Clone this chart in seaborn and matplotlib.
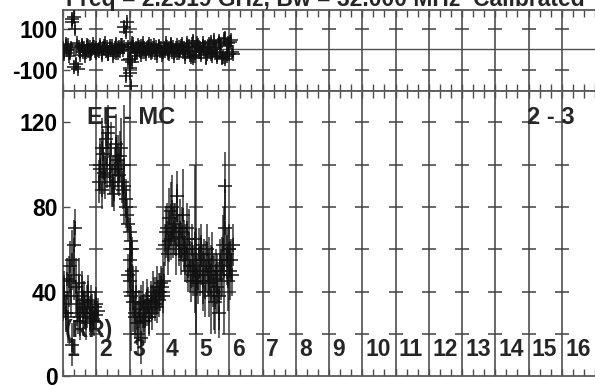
"""Closure amplitude / residual plot for baseline 2-3 (EF - MC)."""
import numpy as np
import pandas as pd
import matplotlib

matplotlib.use("Agg")
import matplotlib.pyplot as plt
import seaborn as sns

# time in hours, amplitude, amplitude error, residual, residual error
hours_a = [1.00, 1.04, 1.08, 1.12, 1.16, 1.20, 1.24, 1.28, 1.32, 1.36, 1.40, 1.44, 1.48, 1.52,
           1.56, 1.60, 1.64, 1.68, 1.72, 1.76, 1.80, 1.84, 1.88, 1.92, 1.96, 2.00, 2.04]
amp_a = [34, 40, 30, 46, 28, 52, 38, 15, 62, 70, 42, 30, 44, 26,
         38, 30, 36, 25, 33, 40, 28, 35, 30, 26, 33, 29, 31]
err_a = [8, 10, 9, 10, 12, 12, 10, 10, 12, 9, 14, 10, 12, 9,
         10, 11, 9, 8, 10, 8, 7, 8, 9, 7, 7, 6, 6]
res_a = [8, -12, 15, -5, 20, -18, 6, 135, 160, 100, -70, -95, 12, -8,
         18, -14, 5, -10, 22, -6, 10, -15, 4, 12, -9, 7, -3]
rerr_a = [18, 20, 22, 18, 24, 22, 18, 25, 30, 22, 26, 24, 20, 18,
          22, 20, 18, 20, 24, 18, 20, 22, 18, 20, 18, 18, 16]

hours_b = [2.08, 2.12, 2.16, 2.20, 2.24, 2.28, 2.32, 2.36, 2.40, 2.44, 2.48, 2.52, 2.56,
           2.60, 2.64, 2.68, 2.72, 2.76, 2.80, 2.84, 2.88, 2.92, 2.96, 3.00, 3.04, 3.08]
amp_b = [92, 100, 88, 105, 96, 112, 100, 118, 95, 108, 90, 86, 98,
         110, 102, 95, 104, 92, 88, 100, 84, 76, 72, 68, 64, 60]
err_b = [10, 12, 9, 12, 10, 12, 11, 10, 9, 12, 10, 8, 10,
         14, 12, 10, 12, 10, 9, 28, 9, 8, 8, 7, 7, 6]
res_b = [-6, 10, -14, 5, 18, -9, 12, -20, 7, -4, 15, -11, 9,
         -16, 6, 13, -8, 20, -5, 11, 85, 135, -50, -90, -180, 30]
rerr_b = [18, 22, 20, 22, 24, 18, 22, 24, 18, 20, 22, 18, 20,
          24, 18, 22, 18, 24, 18, 20, 25, 22, 26, 28, 24, 20]

hours_c = [2.96, 3.00, 3.04, 3.08, 3.12, 3.16, 3.20, 3.24, 3.28, 3.32, 3.36, 3.40, 3.44, 3.48,
           3.52, 3.56, 3.60, 3.64, 3.68, 3.72, 3.76, 3.80, 3.84, 3.88, 3.92, 3.96, 4.00, 4.04]
amp_c = [48, 55, 38, 50, 35, 30, 40, 25, 32, 28, 18, 35, 30, 26,
         38, 33, 28, 36, 30, 40, 34, 38, 42, 36, 40, 44, 38, 45]
err_c = [10, 8, 26, 10, 14, 10, 12, 10, 9, 10, 12, 10, 9, 10,
         8, 9, 8, 9, 8, 10, 8, 9, 10, 8, 9, 8, 8, 9]
res_c = [10, -115, 8, -60, 14, -12, 6, -18, 11, -7, 16, -10, 5, -14,
         9, 12, -6, 18, -11, 7, -15, 10, -4, 13, -9, 6, -12, 8]
rerr_c = [20, 25, 22, 24, 20, 18, 22, 24, 18, 20, 24, 18, 22, 18,
          20, 18, 24, 18, 22, 18, 20, 18, 22, 18, 20, 18, 22, 18]

hours_d = [4.08, 4.12, 4.16, 4.20, 4.24, 4.28, 4.32, 4.36, 4.40, 4.44, 4.48, 4.52, 4.56,
           4.60, 4.64, 4.68, 4.72, 4.76, 4.80, 4.84, 4.88, 4.92, 4.96, 5.00, 5.04, 5.08]
amp_d = [62, 70, 58, 75, 65, 80, 68, 72, 60, 85, 66, 70, 58,
         76, 62, 55, 70, 50, 65, 45, 60, 52, 65, 45, 48, 58]
err_d = [10, 12, 10, 14, 10, 15, 12, 10, 12, 12, 10, 14, 10,
         22, 12, 10, 12, 10, 14, 10, 12, 10, 35, 25, 10, 12]
res_d = [-8, 12, -15, 6, 20, -10, 14, -6, 9, -18, 11, -5, 16,
         -12, 7, -20, 10, -8, 15, -35, 25, -40, 12, -9, 30, -14]
rerr_d = [20, 22, 20, 18, 24, 20, 18, 22, 24, 20, 18, 22, 24,
          20, 18, 24, 22, 18, 20, 25, 24, 26, 20, 18, 24, 20]

hours_e = [5.12, 5.16, 5.20, 5.24, 5.28, 5.32, 5.36, 5.40, 5.44, 5.48, 5.52, 5.56, 5.60,
           5.64, 5.68, 5.72, 5.76, 5.80, 5.84, 5.88, 5.92, 5.96, 6.00, 6.04, 6.08]
amp_e = [50, 62, 45, 55, 40, 60, 48, 52, 38, 58, 45, 35, 50,
         42, 30, 55, 48, 62, 50, 90, 58, 45, 60, 55, 48]
err_e = [12, 10, 14, 10, 12, 12, 10, 14, 18, 10, 12, 15, 10,
         12, 12, 10, 12, 14, 30, 16, 12, 14, 12, 10, 10]
res_e = [6, -12, 18, -8, 10, -20, 14, -6, 35, -30, 9, -15, 12,
         -25, 40, -10, 20, -35, 50, -45, 15, 30, -20, 45, -10]
rerr_e = [20, 18, 24, 20, 18, 24, 20, 18, 26, 24, 20, 18, 22,
          24, 26, 18, 20, 24, 28, 26, 20, 24, 22, 26, 18]

# second polarisation / IF, interleaved in time
hours_2 = [1.02, 1.10, 1.18, 1.26, 1.34, 1.42, 1.50, 1.58, 1.66, 1.74, 1.82, 1.90, 1.98,
           2.10, 2.18, 2.26, 2.34, 2.42, 2.50, 2.58, 2.66, 2.74, 2.82, 2.90,
           3.02, 3.10, 3.18, 3.26, 3.34, 3.42, 3.50, 3.58, 3.66, 3.74, 3.82, 3.90, 3.98,
           4.10, 4.18, 4.26, 4.34, 4.42, 4.50, 4.58, 4.66, 4.74, 4.82, 4.90, 4.98, 5.06,
           5.14, 5.22, 5.30, 5.38, 5.46, 5.54, 5.62, 5.70, 5.78, 5.86, 5.94, 6.02, 6.10]
amp_2 = [38, 30, 45, 55, 48, 34, 28, 40, 32, 36, 30, 27, 34,
         98, 108, 94, 115, 100, 92, 104, 98, 108, 90, 80,
         45, 40, 28, 20, 34, 26, 32, 28, 35, 38, 33, 40, 42,
         68, 64, 78, 70, 76, 62, 68, 60, 58, 52, 48, 50, 44,
         55, 48, 52, 44, 50, 40, 46, 38, 52, 70, 55, 50, 62]
err_2 = [10, 8, 12, 14, 12, 10, 9, 10, 8, 9, 8, 7, 8,
         12, 14, 10, 12, 10, 12, 10, 12, 14, 10, 10,
         14, 12, 10, 10, 9, 10, 8, 9, 8, 9, 8, 9, 9,
         12, 10, 14, 12, 15, 10, 12, 12, 14, 12, 10, 12, 10,
         12, 14, 12, 16, 12, 18, 12, 16, 14, 18, 12, 14, 10]
res_2 = [-20, 25, -30, 150, -85, 30, -25, 20, -30, 15, -20, 25, -15,
         20, -25, 30, -20, 15, -30, 25, -15, 20, 110, -130,
         -45, 25, -30, 20, -25, 30, -20, 25, -15, 20, -30, 15, -25,
         30, -20, 25, -30, 20, -15, 25, -35, 30, -25, 40, -30, 20,
         -25, 30, -40, 25, -20, 45, -35, 30, -40, 55, -30, 35, -20]
rerr_2 = [20, 25, 22, 30, 28, 20, 24, 22, 20, 25, 22, 20, 18,
          22, 25, 20, 24, 22, 20, 25, 22, 24, 30, 28,
          30, 22, 25, 20, 24, 22, 20, 25, 22, 20, 24, 22, 20,
          22, 25, 20, 24, 22, 20, 25, 22, 28, 24, 30, 22, 20,
          25, 22, 30, 24, 20, 28, 25, 22, 30, 32, 25, 28, 20]

hour_labels = ["1", "2", "3", "4", "5", "6", "7", "8", "9", "10", "11", "12", "13", "14", "15", "16"]
amp_ticks = [0, 40, 80, 120]
res_ticks = [-100, 100]

df = pd.DataFrame({
    "hour": hours_a + hours_b + hours_c + hours_d + hours_e + hours_2,
    "amp": amp_a + amp_b + amp_c + amp_d + amp_e + amp_2,
    "err": err_a + err_b + err_c + err_d + err_e + err_2,
    "res": res_a + res_b + res_c + res_d + res_e + res_2,
    "rerr": rerr_a + rerr_b + rerr_c + rerr_d + rerr_e + rerr_2,
})

sns.set_theme(style="white")
plt.rcParams["font.family"] = ["Liberation Sans", "DejaVu Sans"]
plt.rcParams["font.weight"] = "bold"

W, H = 595, 385
fig = plt.figure(figsize=(W / 100, H / 100), dpi=100)
left = 63 / W
ax_top = fig.add_axes([left, 1 - 91 / H, 1 - left, 81 / H])
ax_bot = fig.add_axes([left, 1 - 376.4 / H, 1 - left, (376.4 - 91) / H])

grid_hours = np.arange(2, 17)
ink = "#111111"
fs = 16.5

for ax, ycol, ecol, ylim, ticks, dash_y in [
    (ax_top, "res", "rerr", (-207, 197), res_ticks, res_ticks),
    (ax_bot, "amp", "err", (0, 134.8), amp_ticks, [20, 40, 60, 80, 100, 120]),
]:
    ax.set_xlim(1, 17)
    ax.set_ylim(*ylim)
    for h in grid_hours:
        ax.axvline(h, color="0.25", lw=1.1, zorder=0)
    gx, gy = np.meshgrid(grid_hours, dash_y)
    ax.plot(gx.ravel(), gy.ravel(), ls="none", marker="_", ms=10, mew=1.1,
            color="0.25", zorder=0)
    ax.vlines(df["hour"], df[ycol] - df[ecol], df[ycol] + df[ecol],
              color=ink, lw=1.1, alpha=0.85, zorder=3)
    sns.scatterplot(data=df, x="hour", y=ycol, marker="+", s=100, linewidth=1.2,
                    color=ink, alpha=0.9, ax=ax, zorder=4, legend=False)
    ax.set_xlabel("")
    ax.set_ylabel("")
    ax.set_yticks(ticks)
    ax.set_yticklabels([str(t) for t in ticks], fontsize=fs, fontweight="bold")
    ax.set_xticks(np.arange(1, 17))
    ax.set_xticks(np.arange(1, 17.01, 1 / 3), minor=True)
    ax.set_xticklabels([])
    ax.tick_params(axis="x", which="both", direction="in", top=True, bottom=True,
                   length=5, width=1, color="0.3")
    ax.tick_params(axis="y", which="both", direction="in", left=True, length=5,
                   width=1, color="0.3", pad=4, colors="black")
    for side in ["left", "top", "bottom"]:
        ax.spines[side].set_color("0.35")
        ax.spines[side].set_linewidth(1.3)
    ax.spines["right"].set_visible(False)

ax_top.axhline(0, color="0.3", lw=1, zorder=1)

for h, lab in zip(range(1, 17), hour_labels):
    ax_bot.text(h + 0.1, 12.5, lab, ha="left", va="center", fontsize=fs,
                fontweight="bold", zorder=2)

ax_bot.text(1.06, 21.5, "(RR)", ha="left", va="center", fontsize=fs,
            fontweight="bold", zorder=2)
ax_bot.text(1.72, 122.5, "EF - MC", ha="left", va="center", fontsize=17,
            fontweight="bold", zorder=5)
ax_bot.text(14.95, 122.5, "2 - 3", ha="left", va="center", fontsize=17,
            fontweight="bold", zorder=5)

# title sits partly above the top edge, as in the original page crop
fig.text(66 / W, 1 - 6 / H, "Freq = 2.2519 GHz, Bw = 32.000 MHz  Calibrated",
         ha="left", va="baseline", fontsize=fs, fontweight="bold")

fig.savefig("out.png", dpi=100)
